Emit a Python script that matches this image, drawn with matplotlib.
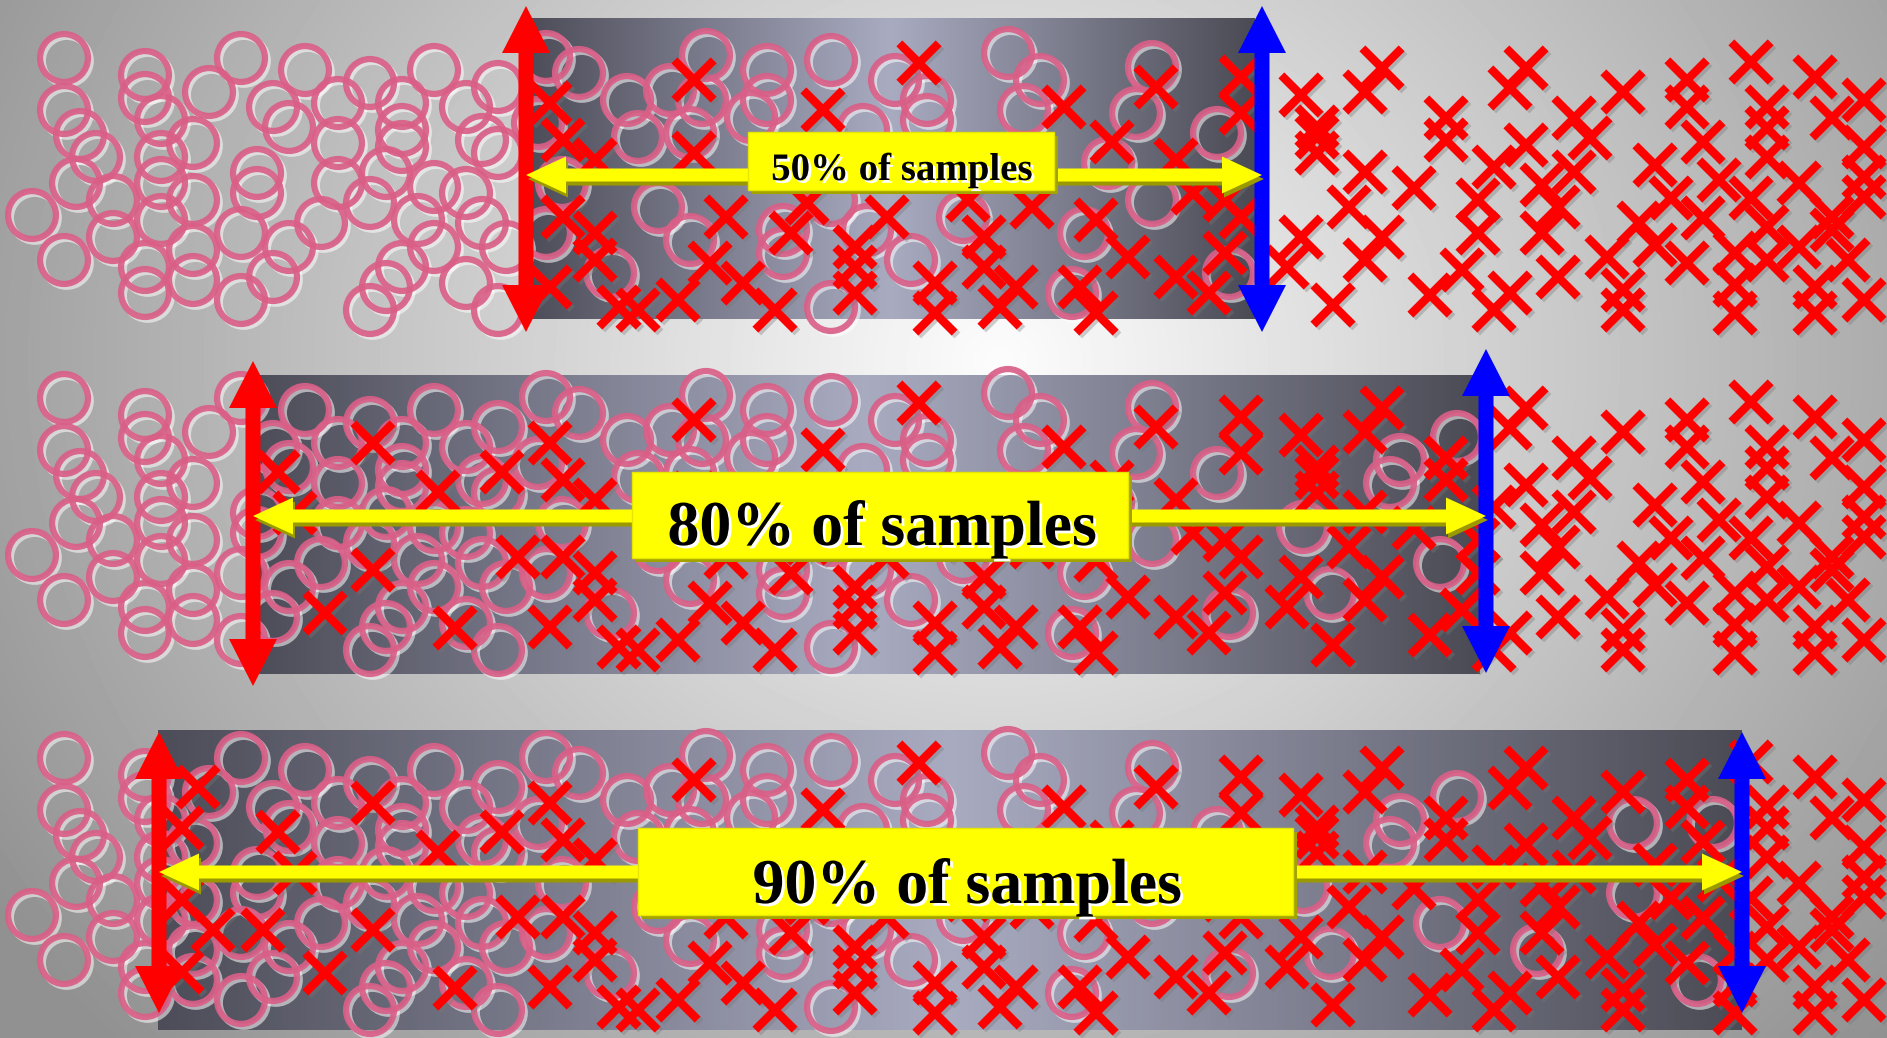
import numpy as np
import matplotlib
matplotlib.use("Agg")
import matplotlib.pyplot as plt
import matplotlib.patheffects as pe
from matplotlib.patches import Polygon, Rectangle
from matplotlib.colors import LinearSegmentedColormap

W, H = 1887, 1038

# sample pattern (pixel coords inside one band), same pattern repeated in each band
circle_x = [64, 64, 145, 145, 80, 96, 161, 193, 209, 241, 161, 76, 113, 161, 193, 32, 64, 113,
            161, 145, 145, 193, 193, 241, 241, 257, 257, 273, 289, 305, 289, 273, 321, 338, 338,
            338, 370, 370, 402, 402, 402, 386, 434, 434, 418, 434, 402, 386, 370, 466, 482, 466,
            498, 466, 482, 498, 498, 506, 579, 546, 538, 546, 562, 627, 610,
            706, 670, 702, 767, 767, 751, 690, 638, 831, 895, 927, 927, 1008, 1040, 1024, 1152,
            1136, 1217, 658, 690, 783, 783, 867, 911, 963, 831, 1084, 1072, 1152, 1229, 831, 863,
            1108, 1400, 1390, 1303, 1330, 1457, 1440, 1537, 1633, 1633, 1713, 1697]
circle_y = [58, 110, 75, 98, 135, 157, 120, 143, 92, 58, 157, 183, 200, 183, 200, 215, 260, 237,
            220, 267, 293, 250, 280, 300, 233, 173, 193, 107, 127, 70, 247, 277, 223, 103, 143,
            183, 83, 203, 103, 130, 147, 173, 70, 187, 220, 247, 267, 287, 310, 193, 223, 283,
            310, 107, 140, 153, 87, 247, 73, 57, 123, 233, 183, 100, 273,
            55, 90, 100, 70, 100, 117, 133, 137, 60, 80, 100, 120, 53, 80, 110, 67,
            113, 133, 207, 240, 253, 230, 230, 260, 217, 200, 233, 293, 200, 273, 307, 130,
            163, 120, 143, 187, 253, 97, 223, 250, 123, 193, 123, 280]

cross_x = [550, 563, 595, 563, 595, 595, 550, 619,
           198, 182, 182, 213, 263, 278, 295, 325, 182, 373, 373, 438, 502, 518, 455,
           694, 823, 694, 919, 1064, 1112, 1156, 1241, 1241, 1176, 726, 791, 807, 887, 855, 855,
           855, 710, 743, 678, 775, 638, 935, 935, 968, 984, 984, 1016, 1000, 1032, 1096, 1128,
           1080, 1096, 1176, 1209, 1225, 1241, 1193, 1225,
           1382, 1365, 1301, 1317, 1317, 1317, 1365, 1414, 1349, 1382, 1365, 1301, 1287, 1333,
           1446, 1446, 1526, 1510, 1526, 1494, 1478, 1478, 1462, 1430, 1510, 1494, 1542, 1542,
           1558, 1574, 1590, 1574, 1558, 1623, 1607, 1623, 1623, 1655, 1639, 1655, 1687, 1687,
           1703, 1671, 1703, 1687, 1719, 1751, 1767, 1767, 1767, 1751, 1767, 1735, 1735, 1735,
           1767, 1799, 1799, 1815, 1832, 1815, 1815, 1832, 1848, 1864, 1864, 1864, 1864, 1864, 1832]
cross_y = [103, 140, 160, 217, 233, 260, 287, 307,
           87, 128, 200, 230, 230, 132, 173, 273, 272, 103, 230, 152, 132, 217, 288,
           80, 110, 153, 63, 107, 142, 87, 77, 113, 160, 217, 233, 203, 217, 247, 267,
           293, 263, 283, 300, 310, 310, 283, 313, 200, 237, 267, 287, 307, 207, 220, 257,
           287, 313, 277, 293, 253, 217, 193, 200,
           68, 92, 95, 127, 137, 153, 172, 188, 207, 237, 260, 237, 267, 305,
           118, 140, 68, 88, 145, 167, 200, 233, 270, 295, 293, 310, 185, 233,
           277, 118, 138, 172, 207, 92, 257, 290, 310, 165, 223, 245, 80, 107,
           142, 198, 218, 263, 180, 62, 107, 128, 157, 198, 227, 253, 285, 313,
           260, 183, 247, 77, 118, 287, 313, 217, 260, 100, 147, 177, 197, 300, 230]

# bands
band_offset = [0, 340, 700]
rect_left = [526, 253, 158]
rect_right = [1255, 1480, 1742]
rect_top = [18, 375, 730]
rect_bottom = [319, 674, 1030]
red_x = [526, 253, 159]
blue_x = [1262, 1486, 1742]
arrow_top = [[6, 6], [361, 349], [732, 732]]
arrow_bot = [[332, 332], [686, 673], [1013, 1013]]
yellow_y = [175, 516, 872]
labels = ["50% of samples", "80% of samples", "90% of samples"]
box_x = [[748, 1054], [632, 1128], [638, 1293]]
box_y = [[132, 190], [472, 558], [828, 915]]
text_x = [902, 882, 967]
text_base = [180, 545, 903]
text_size = [28, 46, 46]

fig = plt.figure(figsize=(W / 100, H / 100), dpi=100)
ax = fig.add_axes([0, 0, 1, 1])
ax.set_xlim(0, W)
ax.set_ylim(H, 0)
ax.axis("off")

# background radial gradient
gx, gy = np.meshgrid(np.linspace(0, W, 400), np.linspace(0, H, 240))
r = np.sqrt(((gx - 1000) / 1100) ** 2 + ((gy - 360) / 950) ** 2)
bg = np.clip(0.99 - 0.39 * r, 0.57, 0.99)
ax.imshow(bg, cmap="gray", vmin=0, vmax=1, extent=(0, W, H, 0), aspect="auto",
          interpolation="bilinear", zorder=0)

rect_cmap = LinearSegmentedColormap.from_list(
    "band", [(0, "#4d4d59"), (0.5, "#a9abc1"), (1, "#4b4b55")])
grad = np.linspace(0, 1, 256).reshape(1, -1)


def v_arrow(x, y0, y1, color, shaft=15, head_w=48, head_len=47):
    pts = [(x, y0), (x + head_w / 2, y0 + head_len), (x + shaft / 2, y0 + head_len),
           (x + shaft / 2, y1 - head_len), (x + head_w / 2, y1 - head_len), (x, y1),
           (x - head_w / 2, y1 - head_len), (x - shaft / 2, y1 - head_len),
           (x - shaft / 2, y0 + head_len), (x - head_w / 2, y0 + head_len)]
    ax.add_patch(Polygon(pts, closed=True, fc=color, ec="none", zorder=8))


def h_arrow(x0, x1, y, shaft=13, head_w=37, head_len=40):
    def pts(dx, dy):
        return [(x0 + dx, y + dy), (x0 + head_len + dx, y - head_w / 2 + dy),
                (x0 + head_len + dx, y - shaft / 2 + dy), (x1 - head_len + dx, y - shaft / 2 + dy),
                (x1 - head_len + dx, y - head_w / 2 + dy), (x1 + dx, y + dy),
                (x1 - head_len + dx, y + head_w / 2 + dy), (x1 - head_len + dx, y + shaft / 2 + dy),
                (x0 + head_len + dx, y + shaft / 2 + dy), (x0 + head_len + dx, y + head_w / 2 + dy)]
    ax.add_patch(Polygon(pts(2, 4), closed=True, fc="#9a9a00", ec="none", zorder=9))
    ax.add_patch(Polygon(pts(0, 0), closed=True, fc="#ffff00", ec="none", zorder=9))


cx = np.array(circle_x)
cy = np.array(circle_y)
kx = np.array(cross_x)
ky = np.array(cross_y)

shadow = [pe.SimpleLineShadow(offset=(2, -2), shadow_color="white", alpha=0.55), pe.Normal()]

for i in range(3):
    ax.imshow(grad, cmap=rect_cmap, extent=(rect_left[i], rect_right[i], rect_bottom[i], rect_top[i]),
              aspect="auto", zorder=1)

    mc = cx < blue_x[i]
    ax.scatter(cx[mc], cy[mc] + band_offset[i], s=1190, marker="o", facecolors="none",
               edgecolors="#d95f87", linewidths=4.5, alpha=0.92, zorder=3, path_effects=shadow)

    mk = kx > red_x[i] + 10
    ax.scatter(kx[mk], ky[mk] + band_offset[i], s=800, marker="x", color="#ff0000",
               linewidths=6, zorder=4,
               path_effects=[pe.SimpleLineShadow(offset=(2, -2), shadow_color="#777777", alpha=0.35),
                             pe.Normal()])

    h_arrow(red_x[i], blue_x[i], yellow_y[i])

    bx0, bx1 = box_x[i]
    by0, by1 = box_y[i]
    ax.add_patch(Rectangle((bx0 + 4, by0 + 4), bx1 - bx0, by1 - by0, fc="#a3a300", ec="none", zorder=10))
    ax.add_patch(Rectangle((bx0, by0), bx1 - bx0, by1 - by0, fc="#ffff00", ec="#e6e600", lw=1, zorder=10))
    ax.text(text_x[i], text_base[i], labels[i], ha="center", va="baseline",
            fontsize=text_size[i], fontweight="bold", family=["Liberation Serif", "DejaVu Serif"],
            color="black", zorder=11,
            path_effects=[pe.SimplePatchShadow(offset=(2, -2), shadow_rgbFace="white", alpha=1),
                          pe.Normal()])

    v_arrow(red_x[i], arrow_top[i][0], arrow_bot[i][0], "#ff0000")
    v_arrow(blue_x[i], arrow_top[i][1], arrow_bot[i][1], "#0000ff")

fig.savefig("out.png", dpi=100)
